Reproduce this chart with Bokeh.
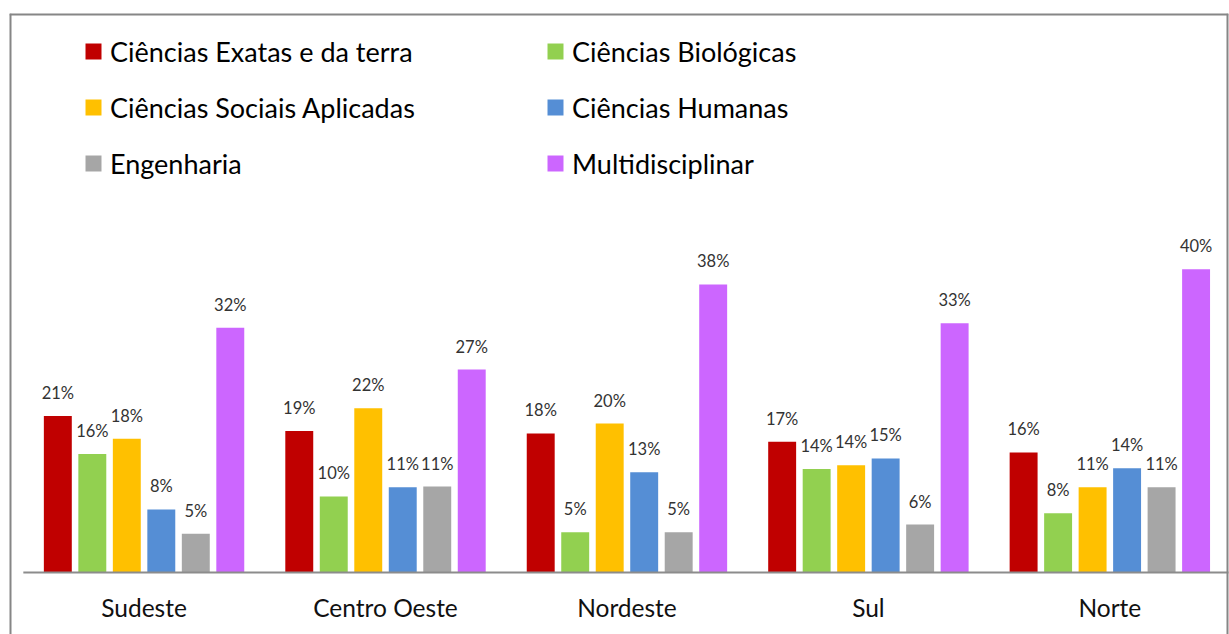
from bokeh.plotting import figure
from bokeh.models import ColumnDataSource, Range1d, Legend, LegendItem, Span
from bokeh.core.properties import value
from bokeh.embed import file_html
from bokeh.resources import INLINE

regions = ["Sudeste", "Centro Oeste", "Nordeste", "Sul", "Norte"]
series_names = ["Ciências Exatas e da terra", "Ciências Biológicas",
                "Ciências Sociais Aplicadas", "Ciências Humanas",
                "Engenharia", "Multidisciplinar"]
exatas = [20.6, 18.6, 18.3, 17.2, 15.8]
biologicas = [15.6, 10.0, 5.3, 13.6, 7.8]
sociais = [17.6, 21.6, 19.6, 14.1, 11.2]
humanas = [8.3, 11.2, 13.2, 15.0, 13.7]
engenharia = [5.1, 11.3, 5.3, 6.3, 11.2]
multi = [32.2, 26.7, 37.9, 32.8, 39.9]
series_values = [exatas, biologicas, sociais, humanas, engenharia, multi]
colors = ["#C00000", "#92D050", "#FFC000", "#558ED5", "#A6A6A6", "#CC66FF"]

FONT = "Lato"
n_series = len(series_names)
stride = n_series + 1  # one empty slot between groups

xr = Range1d(-1.401, 33.94)
yr = Range1d(-8.16, 73.55)
p = figure(width=1229, height=634, output_backend="svg", toolbar_location=None,
           x_axis_location=None, y_axis_location=None,
           x_range=xr, y_range=yr,
           min_border_left=9, min_border_top=13, min_border_right=1, min_border_bottom=0)
p.grid.visible = False
p.outline_line_color = None
p.background_fill_color = "white"
p.border_fill_color = "white"

# chart-area border (left, top, right; bottom is cut off in the original)
for loc, dim in [(xr.start, "height"), (xr.end, "height"), (yr.end, "width")]:
    p.add_layout(Span(location=loc, dimension=dim, line_color="#868686", line_width=4))

items = []
for si, (name, vals, col) in enumerate(zip(series_names, series_values, colors)):
    xs = [gi * stride + si for gi in range(len(regions))]
    src = ColumnDataSource(dict(x=xs, top=vals, label=[f"{round(v)}%" for v in vals]))
    r = p.vbar(x="x", top="top", bottom=0, width=0.81, source=src,
               fill_color=col, line_color=None)
    p.text(x="x", y="top", text="label", source=src, text_align="center",
           text_baseline="alphabetic", y_offset=-23, text_font=value(FONT),
           text_font_size="16.5px", text_color="#333333")
    items.append(LegendItem(label=name, renderers=[r]))

# baseline (category axis line)
p.segment(x0=[-1], y0=[0], x1=[len(regions) * stride - 1], y1=[0],
          line_color="#8C8C8C", line_width=2)

# category labels
cx = [gi * stride + (n_series - 1) / 2 for gi in range(len(regions))]
csrc = ColumnDataSource(dict(x=cx, y=[0] * len(regions), text=regions))
p.text(x="x", y="y", text="text", source=csrc, text_align="center",
       text_baseline="alphabetic", y_offset=35, text_font=value(FONT),
       text_font_size="24.5px", text_color="#111111")

legend = Legend(items=items, orientation="horizontal", ncols=2,
                location=(74, 451), padding=0, margin=0, spacing=16,
                glyph_width=20, glyph_height=20, label_standoff=7,
                label_width=419, label_height=40,
                label_text_font=FONT, label_text_font_size="27px",
                label_text_color="#000000",
                border_line_color=None, background_fill_alpha=0)
p.add_layout(legend)

open("out.html", "w").write(file_html(p, INLINE))
